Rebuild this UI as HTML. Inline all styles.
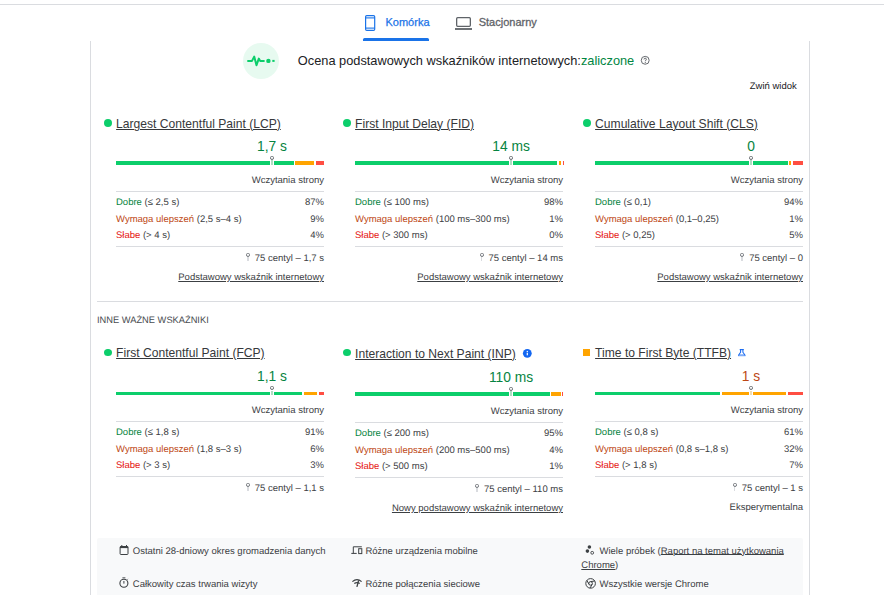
<!DOCTYPE html>
<html><head><meta charset="utf-8"><style>
html,body{margin:0;padding:0;background:#fff;}
body{width:884px;height:595px;overflow:hidden;position:relative;font-family:"Liberation Sans",sans-serif;}
.t{position:absolute;white-space:nowrap;line-height:1;}
.r{position:absolute;}
.pin{display:inline-block;position:relative;width:4px;height:0;margin-right:5px;}
.pin:before{content:"";position:absolute;left:0;top:-8.3px;width:4.2px;height:4.4px;box-sizing:border-box;border:1.1px solid #74787d;border-bottom-width:1.4px;border-radius:1.6px 1.6px 2px 2px;}
.pin:after{content:"";position:absolute;left:1.25px;top:-4px;width:1.5px;height:4px;background:#dadce0;}
.u{text-decoration:underline;text-underline-offset:1px;text-decoration-thickness:1px;}
</style></head><body>
<div class="r" style="left:0px;top:4px;width:884px;height:1px;background:#dadce0;"></div>
<div class="t" style="left:385.5px;top:17px;font-size:11px;color:#1a73e8;-webkit-text-stroke:0.25px #1a73e8;">Komórka</div>
<div class="r" style="left:363px;top:38px;width:66px;height:3px;background:#1a73e8;border-radius:1.5px 1.5px 0 0;"></div>
<div class="t" style="left:478.7px;top:17px;font-size:11px;color:#5f6368;-webkit-text-stroke:0.3px #5f6368;">Stacjonarny</div>
<div class="r" style="left:90px;top:41px;width:1px;height:560px;background:#dadce0;"></div>
<div class="r" style="left:809px;top:41px;width:1px;height:560px;background:#dadce0;"></div>
<div class="r" style="left:243px;top:43px;width:36px;height:36px;background:#e7faf0;border-radius:50%;"></div>
<div class="t" style="left:297.8px;top:55px;font-size:12.8px;color:#202124;">Ocena podstawowych wskaźników internetowych:<span style="color:#018642">zaliczone</span></div>
<div class="t" style="right:87.2px;top:82px;font-size:9.5px;color:#202124;text-align:right;text-rendering:geometricPrecision;">Zwiń widok</div>
<div class="r" style="left:104px;top:119px;width:8px;height:8px;background:#0cce6b;border-radius:50%;"></div>
<div class="t" style="left:116.1px;top:118px;font-size:12.1px;color:#36383b;"><span class="u">Largest Contentful Paint (LCP)</span></div>
<div class="t" style="left:212px;width:120px;top:140px;font-size:13.8px;color:#068441;text-align:center;">1,7 s</div>
<div class="r" style="left:116px;top:161px;width:178px;height:4px;background:#0cce6b;"></div>
<div class="r" style="left:295px;top:161px;width:19px;height:4px;background:#ffa400;"></div>
<div class="r" style="left:316px;top:161px;width:8px;height:4px;background:#ff4e42;"></div>
<div class="r" style="left:270px;top:161px;width:4px;height:4px;background:#fff;"></div>
<div class="r" style="left:270.8px;top:160px;width:2.4px;height:5px;background:#b0dcc3;"></div>
<div class="r" style="left:270px;top:155.6px;width:4.2px;height:4.4px;box-sizing:border-box;border:1.1px solid #6b6f74;border-bottom-width:1.4px;border-radius:1.6px 1.6px 2px 2px;"></div>
<div class="t" style="right:560.0px;top:176px;font-size:9.5px;color:#3c4043;text-align:right;text-rendering:geometricPrecision;">Wczytania strony</div>
<div class="r" style="left:116px;top:191px;width:208px;height:1px;background:#dadce0;"></div>
<div class="t" style="left:116px;top:198px;font-size:9.5px;color:#3c4043;text-rendering:geometricPrecision;"><span style="color:#068441">Dobre</span> (≤ 2,5 s)</div>
<div class="t" style="right:560.0px;top:198px;font-size:9.5px;color:#3c4043;text-align:right;text-rendering:geometricPrecision;">87%</div>
<div class="t" style="left:116px;top:215px;font-size:9.5px;color:#3c4043;text-rendering:geometricPrecision;"><span style="color:#bd4715">Wymaga ulepszeń</span> (2,5 s–4 s)</div>
<div class="t" style="right:560.0px;top:215px;font-size:9.5px;color:#3c4043;text-align:right;text-rendering:geometricPrecision;">9%</div>
<div class="t" style="left:116px;top:231px;font-size:9.5px;color:#3c4043;text-rendering:geometricPrecision;"><span style="color:#e5130f">Słabe</span> (&gt; 4 s)</div>
<div class="t" style="right:560.0px;top:231px;font-size:9.5px;color:#3c4043;text-align:right;text-rendering:geometricPrecision;">4%</div>
<div class="r" style="left:116px;top:246px;width:208px;height:1px;background:#dadce0;"></div>
<div class="t" style="right:560.0px;top:254px;font-size:9.5px;color:#3c4043;text-align:right;text-rendering:geometricPrecision;"><span class="pin"></span>75 centyl – 1,7 s</div>
<div class="t" style="right:560.0px;top:273px;font-size:9.5px;color:#3c4043;text-align:right;text-rendering:geometricPrecision;"><span class="u">Podstawowy wskaźnik internetowy</span></div>
<div class="r" style="left:343px;top:119px;width:8px;height:8px;background:#0cce6b;border-radius:50%;"></div>
<div class="t" style="left:355.1px;top:118px;font-size:12.1px;color:#36383b;"><span class="u">First Input Delay (FID)</span></div>
<div class="t" style="left:451px;width:120px;top:140px;font-size:13.8px;color:#068441;text-align:center;">14 ms</div>
<div class="r" style="left:355px;top:161px;width:202px;height:4px;background:#0cce6b;"></div>
<div class="r" style="left:559px;top:161px;width:2px;height:4px;background:#ffa400;"></div>
<div class="r" style="left:563px;top:161px;width:1px;height:4px;background:#ff4e42;"></div>
<div class="r" style="left:509px;top:161px;width:4px;height:4px;background:#fff;"></div>
<div class="r" style="left:509.8px;top:160px;width:2.4px;height:5px;background:#b0dcc3;"></div>
<div class="r" style="left:509px;top:155.6px;width:4.2px;height:4.4px;box-sizing:border-box;border:1.1px solid #6b6f74;border-bottom-width:1.4px;border-radius:1.6px 1.6px 2px 2px;"></div>
<div class="t" style="right:321.0px;top:176px;font-size:9.5px;color:#3c4043;text-align:right;text-rendering:geometricPrecision;">Wczytania strony</div>
<div class="r" style="left:355px;top:191px;width:208px;height:1px;background:#dadce0;"></div>
<div class="t" style="left:355px;top:198px;font-size:9.5px;color:#3c4043;text-rendering:geometricPrecision;"><span style="color:#068441">Dobre</span> (≤ 100 ms)</div>
<div class="t" style="right:321.0px;top:198px;font-size:9.5px;color:#3c4043;text-align:right;text-rendering:geometricPrecision;">98%</div>
<div class="t" style="left:355px;top:215px;font-size:9.5px;color:#3c4043;text-rendering:geometricPrecision;"><span style="color:#bd4715">Wymaga ulepszeń</span> (100 ms–300 ms)</div>
<div class="t" style="right:321.0px;top:215px;font-size:9.5px;color:#3c4043;text-align:right;text-rendering:geometricPrecision;">1%</div>
<div class="t" style="left:355px;top:231px;font-size:9.5px;color:#3c4043;text-rendering:geometricPrecision;"><span style="color:#e5130f">Słabe</span> (&gt; 300 ms)</div>
<div class="t" style="right:321.0px;top:231px;font-size:9.5px;color:#3c4043;text-align:right;text-rendering:geometricPrecision;">0%</div>
<div class="r" style="left:355px;top:246px;width:208px;height:1px;background:#dadce0;"></div>
<div class="t" style="right:321.0px;top:254px;font-size:9.5px;color:#3c4043;text-align:right;text-rendering:geometricPrecision;"><span class="pin"></span>75 centyl – 14 ms</div>
<div class="t" style="right:321.0px;top:273px;font-size:9.5px;color:#3c4043;text-align:right;text-rendering:geometricPrecision;"><span class="u">Podstawowy wskaźnik internetowy</span></div>
<div class="r" style="left:583px;top:119px;width:8px;height:8px;background:#0cce6b;border-radius:50%;"></div>
<div class="t" style="left:595.1px;top:118px;font-size:12.1px;color:#36383b;"><span class="u">Cumulative Layout Shift (CLS)</span></div>
<div class="t" style="left:691px;width:120px;top:140px;font-size:13.8px;color:#068441;text-align:center;">0</div>
<div class="r" style="left:595px;top:161px;width:193px;height:4px;background:#0cce6b;"></div>
<div class="r" style="left:789px;top:161px;width:2px;height:4px;background:#ffa400;"></div>
<div class="r" style="left:793px;top:161px;width:10px;height:4px;background:#ff4e42;"></div>
<div class="r" style="left:749px;top:161px;width:4px;height:4px;background:#fff;"></div>
<div class="r" style="left:749.8px;top:160px;width:2.4px;height:5px;background:#b0dcc3;"></div>
<div class="r" style="left:749px;top:155.6px;width:4.2px;height:4.4px;box-sizing:border-box;border:1.1px solid #6b6f74;border-bottom-width:1.4px;border-radius:1.6px 1.6px 2px 2px;"></div>
<div class="t" style="right:81.0px;top:176px;font-size:9.5px;color:#3c4043;text-align:right;text-rendering:geometricPrecision;">Wczytania strony</div>
<div class="r" style="left:595px;top:191px;width:208px;height:1px;background:#dadce0;"></div>
<div class="t" style="left:595px;top:198px;font-size:9.5px;color:#3c4043;text-rendering:geometricPrecision;"><span style="color:#068441">Dobre</span> (≤ 0,1)</div>
<div class="t" style="right:81.0px;top:198px;font-size:9.5px;color:#3c4043;text-align:right;text-rendering:geometricPrecision;">94%</div>
<div class="t" style="left:595px;top:215px;font-size:9.5px;color:#3c4043;text-rendering:geometricPrecision;"><span style="color:#bd4715">Wymaga ulepszeń</span> (0,1–0,25)</div>
<div class="t" style="right:81.0px;top:215px;font-size:9.5px;color:#3c4043;text-align:right;text-rendering:geometricPrecision;">1%</div>
<div class="t" style="left:595px;top:231px;font-size:9.5px;color:#3c4043;text-rendering:geometricPrecision;"><span style="color:#e5130f">Słabe</span> (&gt; 0,25)</div>
<div class="t" style="right:81.0px;top:231px;font-size:9.5px;color:#3c4043;text-align:right;text-rendering:geometricPrecision;">5%</div>
<div class="r" style="left:595px;top:246px;width:208px;height:1px;background:#dadce0;"></div>
<div class="t" style="right:81.0px;top:254px;font-size:9.5px;color:#3c4043;text-align:right;text-rendering:geometricPrecision;"><span class="pin"></span>75 centyl – 0</div>
<div class="t" style="right:81.0px;top:273px;font-size:9.5px;color:#3c4043;text-align:right;text-rendering:geometricPrecision;"><span class="u">Podstawowy wskaźnik internetowy</span></div>
<div class="r" style="left:104px;top:348.8px;width:8px;height:7.3px;background:#0cce6b;border-radius:50%;"></div>
<div class="t" style="left:116.1px;top:347px;font-size:12.1px;color:#36383b;"><span class="u">First Contentful Paint (FCP)</span></div>
<div class="t" style="left:212px;width:120px;top:370px;font-size:13.8px;color:#068441;text-align:center;">1,1 s</div>
<div class="r" style="left:116px;top:392px;width:186px;height:3px;background:#0cce6b;"></div>
<div class="r" style="left:304px;top:392px;width:13px;height:3px;background:#ffa400;"></div>
<div class="r" style="left:319px;top:392px;width:5px;height:3px;background:#ff4e42;"></div>
<div class="r" style="left:270px;top:392px;width:4px;height:3px;background:#fff;"></div>
<div class="r" style="left:270.8px;top:391px;width:2.4px;height:4px;background:#b0dcc3;"></div>
<div class="r" style="left:270px;top:385.6px;width:4.2px;height:4.4px;box-sizing:border-box;border:1.1px solid #6b6f74;border-bottom-width:1.4px;border-radius:1.6px 1.6px 2px 2px;"></div>
<div class="t" style="right:560.0px;top:406px;font-size:9.5px;color:#3c4043;text-align:right;text-rendering:geometricPrecision;">Wczytania strony</div>
<div class="r" style="left:116px;top:421px;width:208px;height:1px;background:#dadce0;"></div>
<div class="t" style="left:116px;top:428px;font-size:9.5px;color:#3c4043;text-rendering:geometricPrecision;"><span style="color:#068441">Dobre</span> (≤ 1,8 s)</div>
<div class="t" style="right:560.0px;top:428px;font-size:9.5px;color:#3c4043;text-align:right;text-rendering:geometricPrecision;">91%</div>
<div class="t" style="left:116px;top:445px;font-size:9.5px;color:#3c4043;text-rendering:geometricPrecision;"><span style="color:#bd4715">Wymaga ulepszeń</span> (1,8 s–3 s)</div>
<div class="t" style="right:560.0px;top:445px;font-size:9.5px;color:#3c4043;text-align:right;text-rendering:geometricPrecision;">6%</div>
<div class="t" style="left:116px;top:461px;font-size:9.5px;color:#3c4043;text-rendering:geometricPrecision;"><span style="color:#e5130f">Słabe</span> (&gt; 3 s)</div>
<div class="t" style="right:560.0px;top:461px;font-size:9.5px;color:#3c4043;text-align:right;text-rendering:geometricPrecision;">3%</div>
<div class="r" style="left:116px;top:476px;width:208px;height:1px;background:#dadce0;"></div>
<div class="t" style="right:560.0px;top:484px;font-size:9.5px;color:#3c4043;text-align:right;text-rendering:geometricPrecision;"><span class="pin"></span>75 centyl – 1,1 s</div>
<div class="r" style="left:343px;top:348.8px;width:8px;height:7.3px;background:#0cce6b;border-radius:50%;"></div>
<div class="t" style="left:355.1px;top:348px;font-size:12.1px;color:#36383b;"><span class="u">Interaction to Next Paint (INP)</span></div>
<div class="t" style="left:451px;width:120px;top:371px;font-size:13.8px;color:#068441;text-align:center;">110 ms</div>
<div class="r" style="left:355px;top:392px;width:195px;height:4px;background:#0cce6b;"></div>
<div class="r" style="left:551px;top:392px;width:10px;height:4px;background:#ffa400;"></div>
<div class="r" style="left:562px;top:392px;width:1px;height:4px;background:#ff4e42;"></div>
<div class="r" style="left:509px;top:392px;width:4px;height:4px;background:#fff;"></div>
<div class="r" style="left:509.8px;top:391px;width:2.4px;height:5px;background:#b0dcc3;"></div>
<div class="r" style="left:509px;top:386.6px;width:4.2px;height:4.4px;box-sizing:border-box;border:1.1px solid #6b6f74;border-bottom-width:1.4px;border-radius:1.6px 1.6px 2px 2px;"></div>
<div class="t" style="right:321.0px;top:407px;font-size:9.5px;color:#3c4043;text-align:right;text-rendering:geometricPrecision;">Wczytania strony</div>
<div class="r" style="left:355px;top:422px;width:208px;height:1px;background:#dadce0;"></div>
<div class="t" style="left:355px;top:429px;font-size:9.5px;color:#3c4043;text-rendering:geometricPrecision;"><span style="color:#068441">Dobre</span> (≤ 200 ms)</div>
<div class="t" style="right:321.0px;top:429px;font-size:9.5px;color:#3c4043;text-align:right;text-rendering:geometricPrecision;">95%</div>
<div class="t" style="left:355px;top:446px;font-size:9.5px;color:#3c4043;text-rendering:geometricPrecision;"><span style="color:#bd4715">Wymaga ulepszeń</span> (200 ms–500 ms)</div>
<div class="t" style="right:321.0px;top:446px;font-size:9.5px;color:#3c4043;text-align:right;text-rendering:geometricPrecision;">4%</div>
<div class="t" style="left:355px;top:462px;font-size:9.5px;color:#3c4043;text-rendering:geometricPrecision;"><span style="color:#e5130f">Słabe</span> (&gt; 500 ms)</div>
<div class="t" style="right:321.0px;top:462px;font-size:9.5px;color:#3c4043;text-align:right;text-rendering:geometricPrecision;">1%</div>
<div class="r" style="left:355px;top:477px;width:208px;height:1px;background:#dadce0;"></div>
<div class="t" style="right:321.0px;top:485px;font-size:9.5px;color:#3c4043;text-align:right;text-rendering:geometricPrecision;"><span class="pin"></span>75 centyl – 110 ms</div>
<div class="t" style="right:321.0px;top:504px;font-size:9.5px;color:#3c4043;text-align:right;text-rendering:geometricPrecision;"><span class="u">Nowy podstawowy wskaźnik internetowy</span></div>
<div class="r" style="left:583px;top:349px;width:7px;height:7px;background:#ffa400;"></div>
<div class="t" style="left:595.1px;top:347px;font-size:12.1px;color:#36383b;"><span class="u">Time to First Byte (TTFB)</span></div>
<div class="t" style="left:691px;width:120px;top:370px;font-size:13.8px;color:#bd4715;text-align:center;">1 s</div>
<div class="r" style="left:595px;top:392px;width:125px;height:3px;background:#0cce6b;"></div>
<div class="r" style="left:722px;top:392px;width:64px;height:3px;background:#ffa400;"></div>
<div class="r" style="left:788px;top:392px;width:15px;height:3px;background:#ff4e42;"></div>
<div class="r" style="left:749px;top:392px;width:4px;height:3px;background:#fff;"></div>
<div class="r" style="left:749.8px;top:391px;width:2.4px;height:4px;background:#f0dcb4;"></div>
<div class="r" style="left:749px;top:385.6px;width:4.2px;height:4.4px;box-sizing:border-box;border:1.1px solid #6b6f74;border-bottom-width:1.4px;border-radius:1.6px 1.6px 2px 2px;"></div>
<div class="t" style="right:81.0px;top:406px;font-size:9.5px;color:#3c4043;text-align:right;text-rendering:geometricPrecision;">Wczytania strony</div>
<div class="r" style="left:595px;top:421px;width:208px;height:1px;background:#dadce0;"></div>
<div class="t" style="left:595px;top:428px;font-size:9.5px;color:#3c4043;text-rendering:geometricPrecision;"><span style="color:#068441">Dobre</span> (≤ 0,8 s)</div>
<div class="t" style="right:81.0px;top:428px;font-size:9.5px;color:#3c4043;text-align:right;text-rendering:geometricPrecision;">61%</div>
<div class="t" style="left:595px;top:445px;font-size:9.5px;color:#3c4043;text-rendering:geometricPrecision;"><span style="color:#bd4715">Wymaga ulepszeń</span> (0,8 s–1,8 s)</div>
<div class="t" style="right:81.0px;top:445px;font-size:9.5px;color:#3c4043;text-align:right;text-rendering:geometricPrecision;">32%</div>
<div class="t" style="left:595px;top:461px;font-size:9.5px;color:#3c4043;text-rendering:geometricPrecision;"><span style="color:#e5130f">Słabe</span> (&gt; 1,8 s)</div>
<div class="t" style="right:81.0px;top:461px;font-size:9.5px;color:#3c4043;text-align:right;text-rendering:geometricPrecision;">7%</div>
<div class="r" style="left:595px;top:476px;width:208px;height:1px;background:#dadce0;"></div>
<div class="t" style="right:81.0px;top:484px;font-size:9.5px;color:#3c4043;text-align:right;text-rendering:geometricPrecision;"><span class="pin"></span>75 centyl – 1 s</div>
<div class="t" style="right:81.0px;top:503px;font-size:9.5px;color:#3c4043;text-align:right;text-rendering:geometricPrecision;">Eksperymentalna</div>
<div class="r" style="left:97px;top:301px;width:706px;height:1px;background:#dadce0;"></div>
<div class="t" style="left:97px;top:316px;font-size:9.3px;color:#494c50;text-rendering:geometricPrecision;">INNE WAŻNE WSKAŹNIKI</div>
<div class="r" style="left:97px;top:538px;width:706px;height:70px;background:#f8f9fa;border-radius:2px;"></div>
<div class="t" style="left:132.8px;top:547px;font-size:9.5px;color:#3c4043;text-rendering:geometricPrecision;">Ostatni 28-dniowy okres gromadzenia danych</div>
<div class="t" style="left:132.8px;top:580px;font-size:9.5px;color:#3c4043;text-rendering:geometricPrecision;">Całkowity czas trwania wizyty</div>
<div class="t" style="left:365.4px;top:547px;font-size:9.5px;color:#3c4043;text-rendering:geometricPrecision;">Różne urządzenia mobilne</div>
<div class="t" style="left:365.4px;top:580px;font-size:9.5px;color:#3c4043;text-rendering:geometricPrecision;">Różne połączenia sieciowe</div>
<div class="t" style="left:599.5px;top:547px;font-size:9.5px;color:#3c4043;text-rendering:geometricPrecision;">Wiele próbek (<span class="u" style="text-underline-offset:0">Raport na temat użytkowania</span></div>
<div class="t" style="left:581.3px;top:561px;font-size:9.5px;color:#3c4043;text-rendering:geometricPrecision;"><span class="u">Chrome</span>)</div>
<div class="t" style="left:599.5px;top:580px;font-size:9.5px;color:#3c4043;text-rendering:geometricPrecision;">Wszystkie wersje Chrome</div>

<svg class="r" style="left:0;top:0" width="884" height="595" viewBox="0 0 884 595">
<!-- phone tab icon -->
<rect x="365.6" y="15.6" width="9.1" height="14.8" rx="1.2" fill="none" stroke="#1a73e8" stroke-width="1.2"/>
<line x1="365.6" y1="17.9" x2="374.7" y2="17.9" stroke="#1a73e8" stroke-width="1.1"/>
<line x1="365.6" y1="28.1" x2="374.7" y2="28.1" stroke="#1a73e8" stroke-width="1.1"/>
<!-- laptop -->
<rect x="456.65" y="17.65" width="13.7" height="8.7" rx="1" fill="none" stroke="#5f6368" stroke-width="1.3"/>
<rect x="455" y="28.1" width="17" height="1.8" fill="#5f6368"/>
<!-- pulse -->
<polyline points="247.3,60.9 252,60.9 254.2,56.6 256.5,65.3 258.8,58.6 260.2,60.9 264.6,60.9" fill="none" stroke="#0cce6b" stroke-width="2" stroke-linejoin="round"/>
<circle cx="268.4" cy="60.9" r="2.2" fill="#0cce6b"/>
<line x1="272.3" y1="60.9" x2="274.6" y2="60.9" stroke="#0cce6b" stroke-width="2"/>
<!-- help -->
<circle cx="645.2" cy="60.3" r="3.95" fill="none" stroke="#5f6368" stroke-width="0.95"/>
<path d="M644,59.4 C644,58.6 644.5,58.2 645.2,58.2 C645.9,58.2 646.4,58.6 646.4,59.2 C646.4,60 645.3,60.2 645.3,61.3" fill="none" stroke="#5f6368" stroke-width="1"/>
<circle cx="645.3" cy="62.6" r="0.6" fill="#5f6368"/>
<!-- info (INP) -->
<circle cx="527.3" cy="353.3" r="4.4" fill="#1266f1"/>
<rect x="526.7" y="352.7" width="1.2" height="2.6" fill="#fff"/>
<rect x="526.7" y="350.9" width="1.2" height="1.1" fill="#fff"/>
<!-- beaker (TTFB) -->
<path d="M740.6,349.6 L740.6,352.3 L738.5,355.3 M742.9,349.6 L742.9,352.3 L745.1,355.3" fill="none" stroke="#1769f0" stroke-width="1.05" stroke-linejoin="round" stroke-linecap="round"/>
<line x1="739.7" y1="349.6" x2="743.8" y2="349.6" stroke="#1769f0" stroke-width="1.1"/>
<path d="M739.2,354.3 L744.4,354.3 L745.6,356.2 L738,356.2 Z" fill="#1769f0" opacity="0.55"/>
<!-- footer: calendar -->
<rect x="120.1" y="546.5" width="7.9" height="8" rx="0.8" fill="none" stroke="#3c4043" stroke-width="1"/>
<rect x="120" y="546.3" width="8.1" height="1.8" fill="#3c4043"/>
<rect x="121.3" y="545" width="1" height="1.6" fill="#3c4043"/>
<rect x="126" y="545" width="1" height="1.6" fill="#3c4043"/>
<!-- footer: stopwatch -->
<circle cx="123.9" cy="583.2" r="4" fill="none" stroke="#3c4043" stroke-width="1.1"/>
<rect x="122.4" y="577.4" width="3" height="0.9" fill="#3c4043"/>
<rect x="123.4" y="581" width="1" height="2.6" fill="#3c4043"/>
<line x1="127.2" y1="579.6" x2="127.9" y2="578.9" stroke="#3c4043" stroke-width="0.9"/>
<!-- footer: devices -->
<path d="M353.3,553.3 L353.3,546.8 L361.8,546.8" fill="none" stroke="#3c4043" stroke-width="1"/>
<rect x="351.3" y="552.9" width="5.4" height="1" fill="#3c4043"/>
<rect x="358.7" y="548.7" width="3.1" height="4.9" fill="none" stroke="#3c4043" stroke-width="1"/>
<!-- footer: wifi -->
<path d="M352.4,581.6 Q357,577.6 361.6,581.6" fill="none" stroke="#3c4043" stroke-width="1.2"/>
<path d="M354.3,583.6 Q357,581.6 359.7,583.6" fill="none" stroke="#3c4043" stroke-width="1.2"/>
<line x1="358.6" y1="580.4" x2="356.9" y2="586.8" stroke="#3c4043" stroke-width="1.3"/>
<!-- footer: group -->
<circle cx="589.4" cy="547" r="1.8" fill="#3c4043"/>
<circle cx="587.4" cy="551.1" r="1.8" fill="#3c4043"/>
<circle cx="592.2" cy="552.8" r="1.4" fill="none" stroke="#3c4043" stroke-width="0.9"/>
<!-- footer: chrome -->
<circle cx="590.6" cy="583.4" r="4.8" fill="none" stroke="#3c4043" stroke-width="1"/>
<circle cx="590.6" cy="583.4" r="1.8" fill="none" stroke="#3c4043" stroke-width="1"/>
<line x1="590.6" y1="581.6" x2="594.9" y2="581" stroke="#3c4043" stroke-width="1"/>
<line x1="589" y1="584.3" x2="587" y2="580.6" stroke="#3c4043" stroke-width="1"/>
<line x1="592.2" y1="584.3" x2="590" y2="588.1" stroke="#3c4043" stroke-width="1"/>
</svg>

</body></html>
